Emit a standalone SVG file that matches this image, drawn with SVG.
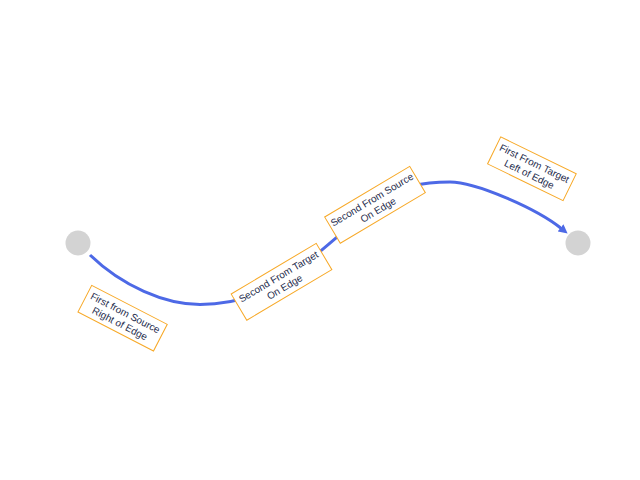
<svg xmlns="http://www.w3.org/2000/svg" width="640" height="480" viewBox="0 0 640 480">
<style>
.node{fill:#d3d3d3}
.edge{fill:none;stroke:#4d69e6;stroke-width:3}
.lbox{fill:#ffffff;stroke:#f7a928;stroke-width:1}
.ltxt{font-family:"Liberation Sans",Arial,sans-serif;font-size:10px;fill:#1f2d4d;text-anchor:middle}
</style>
<defs>
<marker id="arrow" viewBox="0 0 10 10" markerWidth="9" markerHeight="9" markerUnits="userSpaceOnUse" refX="2" refY="5" orient="auto">
<path d="M0,0 L10,5 L0,10 z" fill="#4d69e6"/>
</marker>
</defs>
<rect width="640" height="480" fill="#ffffff"/>
<g id="connectors">
<path class="edge" marker-end="url(#arrow)" d="M90,255 C122,286 165,304.5 200,304.5 S260,295 281,282 S350,225 375,205 S425,182 450,182 S536,208 562,229"/>
</g>
<g id="node-source"><circle class="node" cx="78" cy="243" r="12.5"/></g>
<g id="node-target"><circle class="node" cx="578" cy="243" r="12.5"/></g>
<g id="labels">
<g id="label-first-source" transform="translate(122.6,318.2) rotate(27.3)">
<rect class="lbox" x="-42.5" y="-15" width="85" height="30"/>
<text class="ltxt" x="0" y="-2.5">First from Source</text>
<text class="ltxt" x="0" y="9.5">Right of Edge</text>
</g>
<g id="label-second-target" transform="translate(281.5,281.8) rotate(-30.8)">
<rect class="lbox" x="-49.5" y="-15.25" width="99" height="30.5"/>
<text class="ltxt" x="0" y="-2.5">Second From Target</text>
<text class="ltxt" x="0" y="9.5">On Edge</text>
</g>
<g id="label-second-source" transform="translate(375,204.8) rotate(-30.8)">
<rect class="lbox" x="-49.5" y="-15.25" width="99" height="30.5"/>
<text class="ltxt" x="0" y="-2.5">Second From Source</text>
<text class="ltxt" x="0" y="9.5">On Edge</text>
</g>
<g id="label-first-target" transform="translate(531.9,168.8) rotate(26)">
<rect class="lbox" x="-42" y="-15" width="84" height="30"/>
<text class="ltxt" x="0" y="-2.5">First From Target</text>
<text class="ltxt" x="0" y="9.5">Left of Edge</text>
</g>
</g>
</svg>
